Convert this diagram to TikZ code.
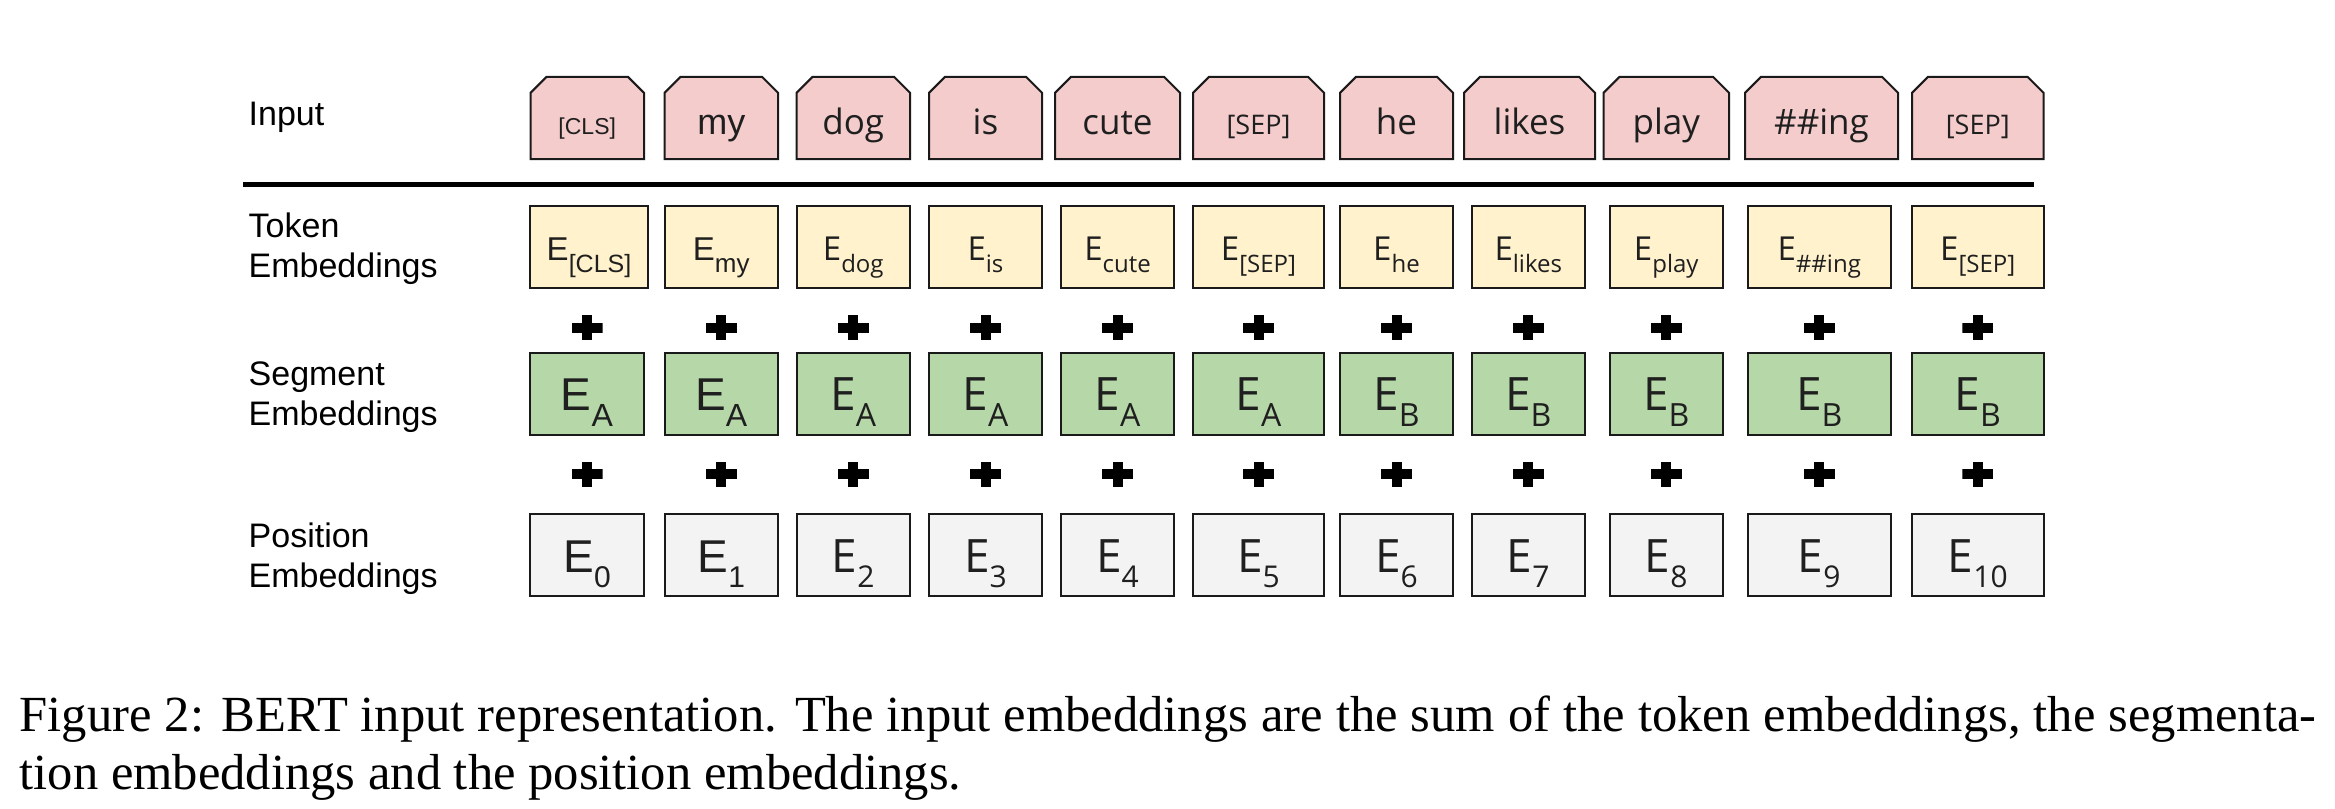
\documentclass[tikz,border=0pt]{standalone}
\usepackage{fontspec}
\setmainfont{Liberation Serif}
\newfontfamily\arialf{Liberation Sans}
\newfontfamily\segf{Open Sans}
\definecolor{inpink}{HTML}{F4CCCC}
\definecolor{tokyel}{HTML}{FFF2CC}
\definecolor{seggrn}{HTML}{B6D7A8}
\definecolor{posgry}{HTML}{F3F3F3}
\definecolor{edgec}{HTML}{1A1A1A}
\newcommand\fsz[1]{\pgfmathsetmacro\fszA{#1*0.3}\pgfmathsetmacro\fszB{#1*0.36}\fontsize{\fszA pt}{\fszB pt}\selectfont}
% \Emb{font}{E size px}{sub size px}{drop}{sub}
\newcommand\Emb[5]{{#1\fsz{#2}E}{#1\fsz{#3}\raisebox{#4}{#5}}}
\newcommand\colfont[1]{\ifnum#1<3 \arialf\else\segf\fi}
\begin{document}
\begin{tikzpicture}[x=0.3pt,y=-0.3pt,
  cell/.style={draw=edgec, line width=0.6pt, inner sep=0pt, outer sep=0pt, minimum height=24.6pt},
  inbox/.style={inner sep=0pt, outer sep=0pt, minimum height=24.7pt},
  chamf/.style={draw=edgec, line width=0.6pt, fill=inpink, line join=miter},
  tokbox/.style={cell, fill=tokyel},
  segbox/.style={cell, fill=seggrn},
  posbox/.style={cell, fill=posgry},
  lbl/.style={font=\arialf\fsz{34}, anchor=base west, inner sep=0pt},
  txt/.style={anchor=base, inner sep=0pt, text=black!88},
  plusn/.style={minimum width=9.3pt, minimum height=7.5pt, inner sep=0pt, outer sep=0pt,
    path picture={
      \fill[black] ([yshift=-1.5pt]path picture bounding box.west) rectangle ([yshift=1.5pt]path picture bounding box.east);
      \fill[black] ([xshift=-1.5pt]path picture bounding box.north) rectangle ([xshift=1.5pt]path picture bounding box.south);}},
  captxt/.style={anchor=base west, inner sep=0pt, font=\fsz{50.6}}
]
\useasboundingbox (0,0) rectangle (2335,808);
% row labels
\node[lbl] (lin) at (248,125) {Input};
\node[lbl] (ltokA) at (248,237) {Token};
\node[lbl] (ltokB) at (248,277) {Embeddings};
\node[lbl] (lsegA) at (248,385) {Segment};
\node[lbl] (lsegB) at (248,425) {Embeddings};
\node[lbl] (lposA) at (248,547) {Position};
\node[lbl] (lposB) at (248,587) {Embeddings};
% separator rule
\coordinate (ruleL) at (243,184.5);
\coordinate (ruleR) at (2034,184.5);
\draw[line width=1.4pt] (ruleL) -- (ruleR);
% columns
\foreach \n/\xl/\xr/\il/\ir/\word/\isz/\tsub/\tsz/\sg in {
  1/530/648/530.5/644/[CLS]/23/[CLS]/25/A,
  2/664.5/778/664.5/778/my/36/my/26/A,
  3/796.5/910/796.5/910/dog/35/dog/24/A,
  4/929/1042/929/1042/is/35/is/24/A,
  5/1061/1174/1055/1180/cute/35/cute/24/A,
  6/1193/1324/1193/1324/[SEP]/27/[SEP]/24/A,
  7/1340/1453/1340/1453/he/35/he/24/B,
  8/1471.5/1585/1464/1595/likes/35/likes/24/B,
  9/1609.5/1723/1603.5/1729/play/35/play/24/B,
  10/1747.5/1891/1745/1898/\#\#ing/35/\#\#ing/24/B,
  11/1912/2043.5/1912/2043.5/[SEP]/27/[SEP]/24/B}{
  \pgfmathsetmacro\cx{(\xl+\xr)/2}
  \pgfmathsetmacro\icx{(\il+\ir)/2}
  \pgfmathsetmacro\segx{(\n==1)*(530+644)/2+(\n>1)*\cx}
  \pgfmathtruncatemacro\pidx{\n-1}
  % input
  \node[inbox, minimum width={(\ir-\il)*0.3pt}] (in\n) at (\icx,118) {};
  \draw[chamf] (in\n.south west) -- ([yshift=-4.8pt]in\n.north west) -- ([xshift=4.8pt]in\n.north west)
     -- ([xshift=-4.8pt]in\n.north east) -- ([yshift=-4.8pt]in\n.north east) -- (in\n.south east) -- cycle;
  \node[txt] (inT\n) at (\icx,134) {\colfont{\n}\fsz{\isz}\word};
  % token embeddings
  \node[tokbox, minimum width={(\xr-\xl)*0.3pt}] (tok\n) at (\cx,246.5) {};
  \node[txt] (tokT\n) at (\cx,260) {\Emb{\colfont{\n}}{33}{\tsz}{-3.6pt}{\tsub}};
  % plus 1
  \node[plusn] (pa\n) at (\segx,327.5) {};
  % segment embeddings
  \node[segbox, minimum width={(\ifnum\n=1 114\else\xr-\xl\fi)*0.3pt}] (seg\n) at (\segx,393.5) {};
  \node[txt] (segT\n) at (\segx,410) {\Emb{\colfont{\n}}{46}{32}{-4.8pt}{\sg}};
  % plus 2
  \node[plusn] (pb\n) at (\segx,474) {};
  % position embeddings
  \node[posbox, minimum width={(\ifnum\n=1 114\else\xr-\xl\fi)*0.3pt}] (pos\n) at (\segx,555) {};
  \node[txt] (posT\n) at (\segx,572) {\Emb{\colfont{\n}}{46}{30}{-4.5pt}{\pidx}};
}
% caption
\node[captxt] (capA) at (19,731) {\makebox[689pt][s]{Figure 2: BERT input representation. The input embeddings are the sum of the token embeddings, the segmenta-}};
\node[captxt] (capB) at (19,789) {tion embeddings and the position embeddings.};
\end{tikzpicture}
\end{document}
